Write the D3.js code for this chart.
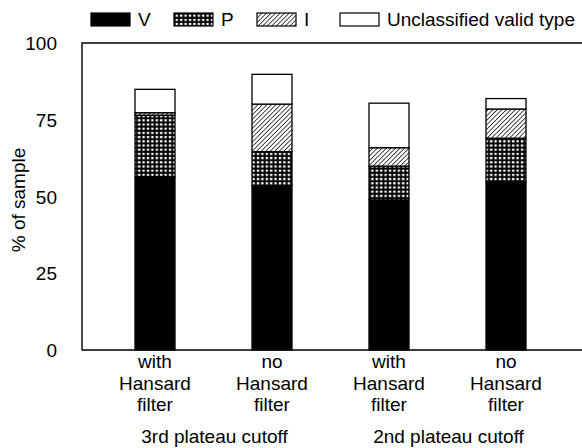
<!DOCTYPE html>
<head>
  <meta charset="utf-8">
  <script src="https://d3js.org/d3.v7.min.js"></script>
<style>
body { margin:0; background:#fff; }
text { font-family: "Liberation Sans", Arial, sans-serif; font-size: 19px; fill: #000; }
</style>
</head>
<body>
<script>
// data
var categories = ["with Hansard filter", "no Hansard filter", "with Hansard filter ", "no Hansard filter "];
var catLines = [["with", "Hansard", "filter"], ["no", "Hansard", "filter"], ["with", "Hansard", "filter"], ["no", "Hansard", "filter"]];
var groups = ["3rd plateau cutoff", "2nd plateau cutoff"];
var seriesNames = ["V", "P", "I", "Unclassified valid type"];
var V = [56.4, 53.4, 48.9, 54.8];
var P = [20.1, 11.2, 11.0, 14.2];
var I = [0.8, 15.5, 6.0, 9.5];
var U = [7.6, 9.7, 14.5, 3.4];
var yTicks = [0, 25, 50, 75, 100];

var width = 582, height = 448;
var svg = d3.select("body").append("svg")
    .attr("width", width)
    .attr("height", height);

// patterns
var defs = svg.append("defs");
var grid = defs.append("pattern")
    .attr("id", "pat-p")
    .attr("patternUnits", "userSpaceOnUse")
    .attr("width", 4.4).attr("height", 4.2);
grid.append("rect").attr("width", 4.4).attr("height", 4.2).attr("fill", "#000");
grid.append("rect").attr("x", 1.6).attr("y", 1.6).attr("width", 2.4).attr("height", 2.2).attr("fill", "#fff");

var hatch = defs.append("pattern")
    .attr("id", "pat-i")
    .attr("patternUnits", "userSpaceOnUse")
    .attr("width", 3.2).attr("height", 3.2)
    .attr("patternTransform", "rotate(45)");
hatch.append("rect").attr("width", 3.2).attr("height", 3.2).attr("fill", "#fff");
hatch.append("line").attr("x1", 0).attr("y1", 0).attr("x2", 0).attr("y2", 3.2)
    .attr("stroke", "#000").attr("stroke-width", 1.4);

var fills = {"V": "#000", "P": "url(#pat-p)", "I": "url(#pat-i)", "Unclassified valid type": "#fff"};

// scales
var x = d3.scalePoint().domain(categories).range([155, 506]);
var y = d3.scaleLinear().domain([0, 100]).range([350, 43]);
var barW = 40;

// stacked data
var rows = categories.map(function(c, i) {
  return {cat: c, "V": V[i], "P": P[i], "I": I[i], "Unclassified valid type": U[i]};
});
var stack = d3.stack().keys(seriesNames)(rows);

// frame
svg.append("path")
    .attr("d", "M" + 600 + "," + y(100) + "H82V" + y(0) + "H600")
    .attr("fill", "none")
    .attr("stroke", "#000")
    .attr("stroke-width", 1.4);

// y tick labels
svg.selectAll(".ytick").data(yTicks).enter().append("text")
    .attr("x", 57)
    .attr("y", d => y(d) + 7)
    .attr("text-anchor", "end")
    .text(d => d);

svg.append("text")
    .attr("transform", "translate(25,200) rotate(-90)")
    .attr("text-anchor", "middle")
    .text("% of sample");

// bars
svg.selectAll(".layer").data(stack).enter().append("g")
    .attr("class", "layer")
    .attr("fill", d => fills[d.key])
  .selectAll("rect").data(d => d).enter().append("rect")
    .attr("x", d => x(d.data.cat) - barW / 2)
    .attr("y", d => y(d[1]))
    .attr("width", barW)
    .attr("height", d => y(d[0]) - y(d[1]))
    .attr("stroke", "#000")
    .attr("stroke-width", 1.3);

// category labels
categories.forEach(function(c, i) {
  var t = svg.append("text")
      .attr("text-anchor", "middle")
      .attr("x", x(c))
      .attr("y", 368);
  catLines[i].forEach(function(l, j) {
    t.append("tspan").attr("x", x(c)).attr("dy", j ? 21.7 : 0).text(l);
  });
});

// group labels
groups.forEach(function(g, i) {
  var cx = (x(categories[2 * i]) + x(categories[2 * i + 1])) / 2;
  svg.append("text")
      .attr("text-anchor", "middle")
      .attr("x", cx + 1)
      .attr("y", 443)
      .text(g);
});

// legend
var legend = svg.selectAll(".legend").data(seriesNames).enter().append("g")
    .attr("transform", (d, i) => "translate(" + (91 + i * 83) + ",13)");
legend.append("rect")
    .attr("width", 39).attr("height", 13)
    .attr("fill", d => fills[d])
    .attr("stroke", "#000")
    .attr("stroke-width", 1.2);
legend.append("text")
    .attr("x", 47)
    .attr("y", 13)
    .text(d => d);
</script>
</body>
